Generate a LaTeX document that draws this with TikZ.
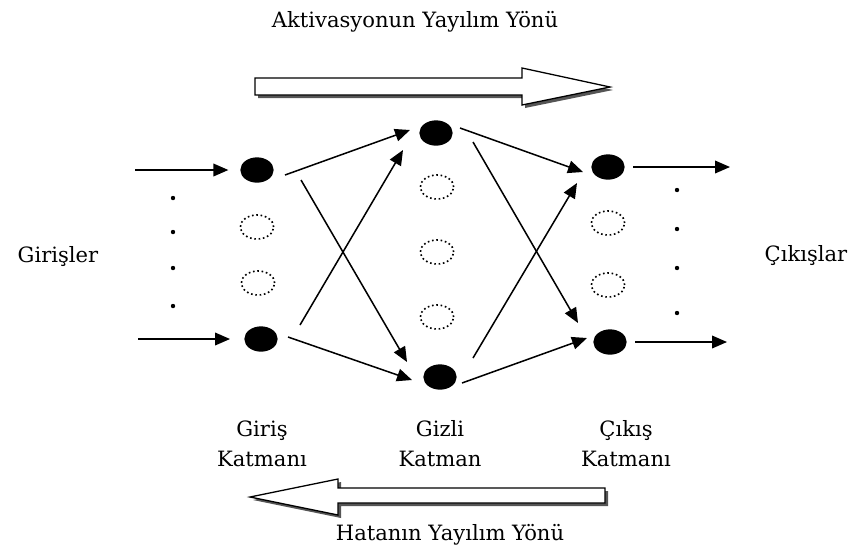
\documentclass[tikz,border=0pt]{standalone}
\usepackage{fontspec}
\setmainfont{DejaVu Serif}
\usetikzlibrary{arrows.meta,positioning,shapes.geometric}
\definecolor{Ink}{HTML}{000000}
\definecolor{Shade}{HTML}{555555}
\tikzset{
  unit/.style={
    ellipse, fill=Ink, minimum width=1.0cm, minimum height=0.76cm, inner sep=0pt
  },
  ghost/.style={
    ellipse, draw=Ink, line width=1.4pt, dash pattern=on 1.4pt off 2.3pt,
    minimum width=1.0cm, minimum height=0.72cm, inner sep=0pt
  },
  link/.style={-{Triangle[length=4.5mm,width=3.8mm]}, line width=1.3pt, draw=Ink},
  caption/.style={font=\fontsize{18}{25.5}\selectfont, align=center, text=Ink},
  blockarrow/.style={draw=Ink, line width=1.1pt, fill=white},
  blockshade/.style={fill=Shade}
}

\begin{document}
\begin{tikzpicture}[x=0.03cm,y=-0.03cm]
        \useasboundingbox (0,0) rectangle (852,548);
        % propagation arrows
        \fill[blockshade,shift={(3,3)}] (255,78) -- (522,78) -- (522,68) -- (610,87) -- (522,105) -- (522,95) -- (255,95) -- cycle;
        \draw[blockarrow] (255,78) -- (522,78) -- (522,68) -- (610,87) -- (522,105) -- (522,95) -- (255,95) -- cycle;
        \fill[blockshade,shift={(3,3)}] (605,488) -- (338,488) -- (338,479) -- (250,497) -- (338,515) -- (338,503) -- (605,503) -- cycle;
        \draw[blockarrow] (605,488) -- (338,488) -- (338,479) -- (250,497) -- (338,515) -- (338,503) -- (605,503) -- cycle;
        \node[caption] (forward) at (415,22) {Aktivasyonun Yayılım Yönü};
        \node[caption] (backward) at (450,535) {Hatanın Yayılım Yönü};
        % layers
        \node[unit] (i1) at (257,170) {};
        \node[ghost] (i2) at (257,227) {};
        \node[ghost] (i3) at (258,283) {};
        \node[unit] (i4) at (261,339) {};
        \node[unit] (h1) at (436,133) {};
        \node[ghost] (h2) at (437,187) {};
        \node[ghost] (h3) at (437,252) {};
        \node[ghost] (h4) at (437,317) {};
        \node[unit] (h5) at (440,377) {};
        \node[unit] (o1) at (608,167) {};
        \node[ghost] (o2) at (608,223) {};
        \node[ghost] (o3) at (608,285) {};
        \node[unit] (o4) at (610,342) {};
        \node[caption] (inlabel) at (262,444) {Giriş\\Katmanı};
        \node[caption] (hidlabel) at (440,444) {Gizli\\Katman};
        \node[caption] (outlabel) at (626,444) {Çıkış\\Katmanı};
        \node[caption] (inputs) at (58,257) {Girişler};
        \node[caption] (outputs) at (806,256) {Çıkışlar};
        % inputs and outputs
        \coordinate (x1) at (135,170);
        \coordinate (x2) at (138,339);
        \coordinate (y1) at (730,167);
        \coordinate (y2) at (727,342);
        \draw[link,shorten >=10pt] (x1) -- (i1);
        \draw[link,shorten >=12pt] (x2) -- (i4);
        \draw[link,shorten <=7pt] (o1) -- (y1);
        \draw[link,shorten <=7pt] (o4) -- (y2);
        \foreach \y in {198,232,268,306} \fill[Ink] (173,\y) circle (2.2);
        \foreach \y in {190,229,268,313} \fill[Ink] (677,\y) circle (2.2);
        % connections
        \draw[link] ([shift={(28,5)}]i1.center) -- ([shift={(-26,-3)}]h1.center);
        \draw[link] ([shift={(44,10)}]i1.center) -- ([shift={(-33,-15)}]h5.center);
        \draw[link] ([shift={(39,-14)}]i4.center) -- ([shift={(-33,17)}]h1.center);
        \draw[link] ([shift={(27,-2)}]i4.center) -- ([shift={(-28,3)}]h5.center);
        \draw[link] ([shift={(24,-5)}]h1.center) -- ([shift={(-25,5)}]o1.center);
        \draw[link] ([shift={(37,9)}]h1.center) -- ([shift={(-32,-19)}]o4.center);
        \draw[link] ([shift={(33,-19)}]h5.center) -- ([shift={(-31,16)}]o1.center);
        \draw[link] ([shift={(22,6)}]h5.center) -- ([shift={(-23,-4)}]o4.center);
      \end{tikzpicture}
\end{document}
